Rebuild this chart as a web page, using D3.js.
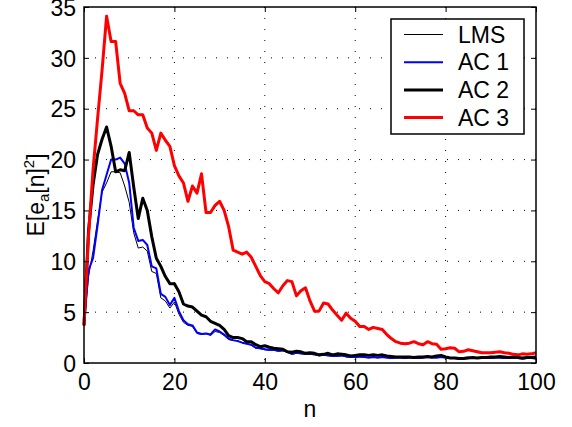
<!DOCTYPE html>
<html>
<head>
<meta charset="utf-8">
<script src="https://cdn.jsdelivr.net/npm/d3@7"></script>
<style>
  body { margin: 0; background: #fff; }
  text { font-family: "Liberation Sans", Arial, sans-serif; }
</style>
</head>
<body>
<div id="chart"></div>
<script>
// series values, one per n = 0..100
const lms = [3.7, 8.5, 11.0, 14.0, 16.8, 17.7, 18.8, 18.8, 18.7, 17.4, 15.8, 12.8, 11.3, 11.4, 11.0, 9.0, 8.8, 6.4, 6.1, 5.4,
  6.0, 4.8, 4.0, 3.7, 3.6, 2.9, 2.8, 2.9, 2.7, 3.1, 3.0, 2.7, 2.3, 2.2, 2.2, 2.0, 1.9, 1.75, 1.45, 1.4,
  1.3, 1.25, 1.25, 1.15, 1.2, 1.05, 0.85, 0.95, 0.9, 0.85, 0.85, 0.8, 0.7, 0.75, 0.7, 0.65, 0.65, 0.7, 0.6, 0.55,
  0.55, 0.6, 0.55, 0.5, 0.55, 0.5, 0.55, 0.5, 0.45, 0.5, 0.5, 0.45, 0.5, 0.5, 0.45, 0.5, 0.55, 0.5, 0.5, 0.55,
  0.5, 0.45, 0.45, 0.4, 0.45, 0.5, 0.45, 0.45, 0.5, 0.5, 0.45, 0.5, 0.5, 0.45, 0.45, 0.5, 0.45, 0.4, 0.45, 0.45, 0.4];

const ac1 = [3.7, 9.1, 10.3, 13.5, 17.0, 18.5, 20.0, 20.0, 20.2, 19.6, 17.7, 13.3, 12.0, 12.1, 11.6, 9.5, 9.3, 6.8, 6.5, 5.7,
  6.4, 5.1, 4.2, 3.8, 3.7, 3.0, 2.85, 2.9, 2.8, 3.3, 3.1, 2.8, 2.4, 2.25, 2.15, 2.0, 1.9, 1.8, 1.5, 1.45,
  1.35, 1.3, 1.3, 1.2, 1.25, 1.1, 0.9, 1.0, 0.95, 0.9, 0.9, 0.85, 0.75, 0.8, 0.75, 0.7, 0.7, 0.75, 0.65, 0.6,
  0.6, 0.65, 0.6, 0.55, 0.6, 0.55, 0.6, 0.55, 0.5, 0.55, 0.55, 0.5, 0.55, 0.55, 0.5, 0.55, 0.6, 0.55, 0.55, 0.6,
  0.55, 0.5, 0.5, 0.45, 0.5, 0.55, 0.5, 0.5, 0.55, 0.55, 0.5, 0.55, 0.55, 0.5, 0.5, 0.55, 0.5, 0.45, 0.5, 0.5, 0.45];

const ac2 = [3.7, 13.0, 17.5, 20.5, 22.0, 23.2, 21.3, 18.8, 19.0, 18.9, 20.7, 17.3, 14.2, 16.2, 15.0, 12.4, 10.3, 9.5, 8.5, 7.8,
  7.8, 7.0, 5.8, 5.6, 5.5, 5.1, 4.7, 4.55, 4.1, 3.9, 3.7, 3.3, 2.7, 2.5, 2.5, 2.4, 2.1, 2.1, 1.8, 1.6,
  1.7, 1.55, 1.45, 1.4, 1.35, 1.1, 1.05, 1.15, 1.1, 0.95, 1.0, 0.95, 0.8, 0.85, 0.95, 0.8, 0.9, 0.85, 0.8, 0.7,
  0.75, 0.8, 0.8, 0.75, 0.8, 0.75, 0.8, 0.7, 0.65, 0.6, 0.6, 0.6, 0.6, 0.55, 0.6, 0.6, 0.65, 0.6, 0.7, 0.75,
  0.6, 0.5, 0.5, 0.45, 0.45, 0.5, 0.55, 0.5, 0.55, 0.55, 0.6, 0.6, 0.65, 0.6, 0.55, 0.6, 0.55, 0.5, 0.55, 0.55, 0.6];

const ac3 = [3.7, 12.5, 19.0, 24.0, 28.8, 34.1, 31.6, 31.6, 27.5, 26.5, 24.8, 24.8, 24.4, 24.4, 23.1, 22.6, 20.9, 22.6, 21.9, 21.3,
  19.4, 18.4, 17.7, 15.9, 17.4, 16.7, 18.6, 14.8, 14.8, 15.5, 15.9, 15.0, 13.4, 11.1, 10.9, 10.7, 10.9, 10.4, 9.5, 8.6,
  8.0, 7.8, 7.3, 6.9, 7.6, 8.1, 8.0, 6.6, 7.1, 7.4, 6.1, 5.1, 5.1, 5.9, 5.8, 5.2, 4.7, 4.2, 4.9, 4.4,
  4.1, 3.6, 3.6, 3.3, 3.5, 3.4, 3.3, 2.8, 2.4, 2.1, 1.95, 1.9, 1.95, 2.1, 1.9, 1.8, 2.1, 1.9, 1.85, 1.35,
  1.4, 1.5, 1.45, 1.1, 1.15, 1.3, 1.2, 1.1, 1.0, 1.0, 1.0, 1.05, 1.1, 1.0, 0.95, 0.85, 0.8, 0.9, 0.85, 0.9, 1.0];

const seriesNames = ["LMS", "AC 1", "AC 2", "AC 3"];
const seriesColors = ["#000000", "#0000ff", "#000000", "#ff0000"];
const seriesWidths = [1, 2, 3, 3];
const xTicks = [0, 20, 40, 60, 80, 100];
const yTicks = [0, 5, 10, 15, 20, 25, 30, 35];

const margin = { top: 7, right: 36, bottom: 64, left: 84 },
    width = 572 - margin.left - margin.right,
    height = 427 - margin.top - margin.bottom;

const fontSize = "23px";

const svg = d3.select("#chart")
    .append("svg")
    .attr("width", 572)
    .attr("height", 427);

const g = svg.append("g")
    .attr("transform", `translate(${margin.left},${margin.top})`);

const x = d3.scaleLinear().domain([0, 100]).range([0, width]);
const y = d3.scaleLinear().domain([0, 35]).range([height, 0]);

// dotted grid
g.selectAll(".gx")
    .data(xTicks.filter(d => d > 0 && d < 100))
    .join("line")
    .attr("x1", d => x(d)).attr("x2", d => x(d))
    .attr("y1", 0).attr("y2", height)
    .attr("stroke", "#000").attr("stroke-width", 1)
    .attr("stroke-dasharray", "1,10");
g.selectAll(".gy")
    .data(yTicks.filter(d => d > 0 && d < 35))
    .join("line")
    .attr("x1", 0).attr("x2", width)
    .attr("y1", d => y(d)).attr("y2", d => y(d))
    .attr("stroke", "#000").attr("stroke-width", 1)
    .attr("stroke-dasharray", "1,10");

// curves
const data = [lms, ac1, ac2, ac3];
const line = d3.line()
    .x((d, i) => x(i))
    .y(d => y(d));

g.selectAll(".curve")
    .data(data)
    .join("path")
    .attr("class", "curve")
    .attr("d", d => line(d))
    .attr("fill", "none")
    .attr("stroke", (d, i) => seriesColors[i])
    .attr("stroke-width", (d, i) => seriesWidths[i])
    .attr("stroke-linejoin", "round");

// axes, ticks pointing inward on all four sides
const tickLen = 5;
g.append("g")
    .attr("transform", `translate(0,${height})`)
    .call(d3.axisBottom(x).tickValues(xTicks).tickSizeInner(-tickLen).tickSizeOuter(0).tickPadding(11));
const left = g.append("g")
    .call(d3.axisLeft(y).tickValues(yTicks).tickSizeInner(-tickLen).tickSizeOuter(0).tickPadding(8));
g.append("g")
    .call(d3.axisTop(x).tickValues(xTicks).tickSizeInner(-tickLen).tickSizeOuter(0).tickFormat(""));
g.append("g")
    .attr("transform", `translate(${width},0)`)
    .call(d3.axisRight(y).tickValues(yTicks).tickSizeInner(-tickLen).tickSizeOuter(0).tickFormat(""));

g.selectAll(".domain").remove();
g.selectAll(".tick line").attr("stroke", "#000").attr("stroke-width", 1);
g.selectAll(".tick text")
    .attr("fill", "#000")
    .style("font-size", fontSize)
    .style("font-family", "'Liberation Sans', Arial, sans-serif");
left.selectAll(".tick text").attr("dy", "0.36em");

g.append("rect")
    .attr("width", width).attr("height", height)
    .attr("fill", "none").attr("stroke", "#000").attr("stroke-width", 1.5);

// axis labels
svg.append("text")
    .attr("x", margin.left + width / 2)
    .attr("y", 417)
    .attr("text-anchor", "middle")
    .style("font-size", fontSize)
    .text("n");

const yl = svg.append("text")
    .attr("transform", `translate(44,${margin.top + height / 2 + 10}) rotate(-90)`)
    .attr("text-anchor", "middle")
    .style("font-size", fontSize);
yl.append("tspan").text("E[e");
yl.append("tspan").attr("dy", 5).style("font-size", "15px").text("a");
yl.append("tspan").attr("dy", -5).text("[n]");
yl.append("tspan").attr("dy", -10).style("font-size", "15px").text("2");
yl.append("tspan").attr("dy", 10).text("]");

// legend
const legend = svg.append("g").attr("transform", "translate(391,19)");
legend.append("rect")
    .attr("width", 133).attr("height", 115)
    .attr("fill", "#fff").attr("stroke", "#000").attr("stroke-width", 1.5);
const rows = legend.selectAll(".row")
    .data(seriesNames)
    .join("g")
    .attr("transform", (d, i) => `translate(0,${15.5 + i * 27.7})`);
rows.append("line")
    .attr("x1", 13).attr("x2", 52)
    .attr("stroke", (d, i) => seriesColors[i])
    .attr("stroke-width", (d, i) => seriesWidths[i]);
rows.append("text")
    .attr("x", 67)
    .attr("dy", "0.36em")
    .style("font-size", fontSize)
    .text(d => d);
</script>
</body>
</html>
